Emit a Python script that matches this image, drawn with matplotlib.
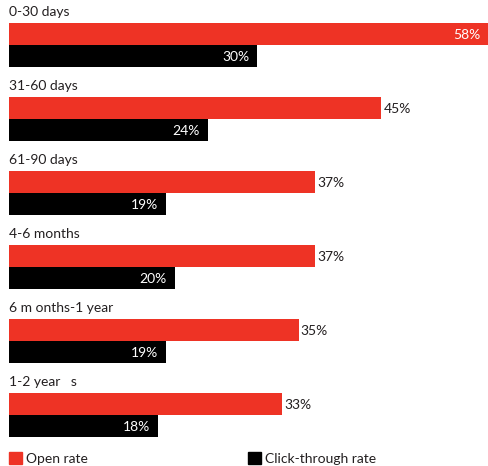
import matplotlib
matplotlib.use("Agg")
import matplotlib.pyplot as plt
from matplotlib.patches import Patch

# data
groups = ["0-30 days", "31-60 days", "61-90 days", "4-6 months",
          "6 m onths-1 year", "1-2 year   s"]
open_rate = [58, 45, 37, 37, 35, 33]
click_rate = [30, 24, 19, 20, 19, 18]

RED = "#EE3325"
TXT = "#231F20"
plt.rcParams["font.family"] = ["Lato", "DejaVu Sans"]

W, H = 489, 466
fig = plt.figure(figsize=(W / 100, H / 100), dpi=100)
ax = fig.add_axes([0, 0, 1, 1])

# x: value 0 at pixel 9, 58 at pixel 489
px_per = 480 / 58
ax.set_xlim(-9 / px_per, (W - 9) / px_per)
ax.set_ylim(H, 0)
ax.axis("off")

step = 74
bar_h = 22
fs = 10
for i, g in enumerate(groups):
    top = i * step
    ax.text(0, top + 12, g, ha="left", va="center", fontsize=fs, color=TXT)
    yr = top + 23 + bar_h / 2
    yb = top + 45 + bar_h / 2
    ax.barh(yr, open_rate[i], height=bar_h, left=0, color=RED)
    ax.barh(yb, click_rate[i], height=bar_h, left=0, color="black")
    if open_rate[i] == max(open_rate):
        ax.text(open_rate[i] - 9 / px_per, yr + 1, f"{open_rate[i]}%", ha="right",
                va="center", fontsize=fs, color="white")
    else:
        ax.text(open_rate[i] + 2 / px_per, yr + 1, f"{open_rate[i]}%", ha="left",
                va="center", fontsize=fs, color=TXT)
    ax.text(click_rate[i] - 8 / px_per, yb + 1, f"{click_rate[i]}%", ha="right",
            va="center", fontsize=fs, color="white")

handles = [Patch(color=RED, label="Open rate"),
           Patch(color="black", label="Click-through rate")]
fig.legend(handles=handles, loc="lower left", bbox_to_anchor=(9 / W, 1 / H),
           ncol=2, frameon=False, fontsize=fs, handlelength=0.95, handleheight=0.95,
           handletextpad=0.3, columnspacing=11.5, borderpad=0, borderaxespad=0,
           labelcolor=TXT)

fig.savefig("out.png", dpi=100)
